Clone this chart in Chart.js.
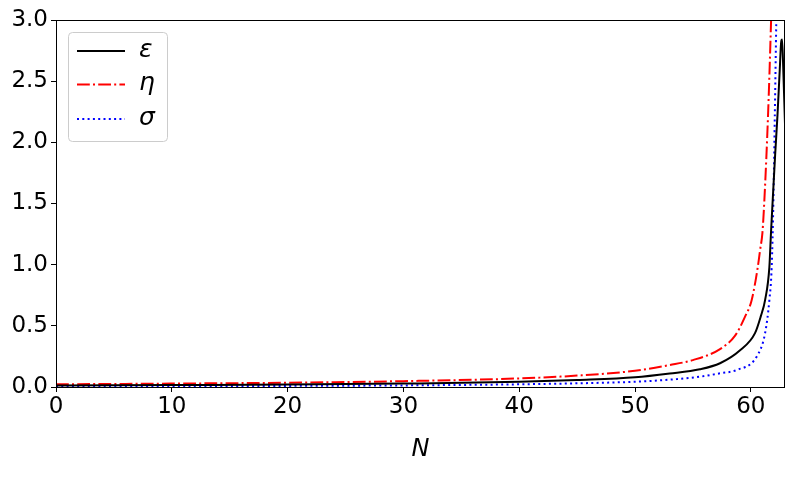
<!DOCTYPE html>
<html>
<head>
<meta charset="utf-8">
<script src="https://cdn.jsdelivr.net/npm/chart.js@4.4.1/dist/chart.umd.min.js"></script>
<style>
  html, body { margin: 0; padding: 0; background: #fff; }
  #wrap { width: 797px; height: 478px; }
</style>
</head>
<body>
<div id="wrap"><canvas id="c" width="797" height="478"></canvas></div>
<script>
// values
const nEps = [0, 10, 20, 30, 40, 45, 50, 53, 55.6, 57.34, 59.07, 60.36, 60.85, 61.23, 61.6, 61.74, 61.89, 62.1, 62.3, 62.5, 62.62, 62.7, 62.8, 62.95];
const eps  = [0.012, 0.016, 0.02, 0.028, 0.042, 0.057, 0.079, 0.11, 0.145, 0.194, 0.30, 0.44, 0.575, 0.71, 0.98, 1.26, 1.53, 1.9, 2.22, 2.6, 2.82, 2.84, 2.6, 2.15];

const nEta = [0, 10, 20, 30, 40, 45, 50, 53, 55, 57.34, 58.64, 59.5, 60.07, 60.6, 60.8, 61.0, 61.17, 61.5, 61.75, 61.9];
const eta  = [0.022, 0.028, 0.035, 0.048, 0.07, 0.093, 0.133, 0.18, 0.22, 0.31, 0.42, 0.575, 0.71, 0.98, 1.12, 1.26, 1.53, 2.26, 3.0, 3.5];

const nSig = [0, 10, 20, 30, 40, 45, 50, 53, 55.6, 57.34, 58.78, 60.5, 61.23, 61.6, 61.8, 61.95, 62.07, 62.2, 62.3];
const sig  = [0.004, 0.006, 0.009, 0.013, 0.022, 0.03, 0.043, 0.06, 0.084, 0.112, 0.139, 0.248, 0.44, 0.71, 0.98, 1.53, 2.22, 3.0, 3.5];

const xTicks = [0, 10, 20, 30, 40, 50, 60];
const yTicks = [0, 0.5, 1, 1.5, 2, 2.5, 3];
const labels = ["ε", "η", "σ"];

const toPts = (xs, ys) => xs.map((x, i) => ({ x, y: ys[i] }));

const FONT = "'DejaVu Sans', sans-serif";

const series = [
  { label: labels[0], data: toPts(nEps, eps), borderColor: "#000000", borderDash: [] },
  { label: labels[1], data: toPts(nEta, eta), borderColor: "#ff0000", borderDash: [12.8, 3.2, 2, 3.2] },
  { label: labels[2], data: toPts(nSig, sig), borderColor: "#0000ff", borderDash: [2, 3.3] }
];

// frame, x title and legend box drawn like matplotlib
const extras = {
  id: "extras",
  afterDraw(chart) {
    const { ctx, chartArea: a } = chart;
    ctx.save();
    ctx.strokeStyle = "#000";
    ctx.lineWidth = 1;
    ctx.strokeRect(a.left + 0.5, a.top + 0.5, a.right - a.left - 1, a.bottom - a.top);

    ctx.fillStyle = "#000";
    ctx.font = "italic 24px " + FONT;
    ctx.textAlign = "center";
    ctx.textBaseline = "middle";
    ctx.fillText("N", (a.left + a.right) / 2, 450);

    // legend
    const bx = 68, by = 32, bw = 99, bh = 109;
    ctx.beginPath();
    ctx.roundRect(bx + 0.5, by + 0.5, bw, bh, 4);
    ctx.fillStyle = "rgba(255,255,255,0.8)";
    ctx.fill();
    ctx.strokeStyle = "#cccccc";
    ctx.stroke();

    const rows = [51, 84.5, 119];
    series.forEach((s, i) => {
      ctx.beginPath();
      ctx.setLineDash(s.borderDash);
      ctx.strokeStyle = s.borderColor;
      ctx.lineWidth = 2;
      ctx.moveTo(77, rows[i]);
      ctx.lineTo(125, rows[i]);
      ctx.stroke();
      ctx.setLineDash([]);
      ctx.fillStyle = "#000";
      ctx.font = "italic 25px " + FONT;
      ctx.textAlign = "left";
      ctx.textBaseline = "middle";
      ctx.fillText(s.label, 139, rows[i] - 1);
    });
    ctx.restore();
  }
};

new Chart(document.getElementById("c"), {
  type: "scatter",
  data: {
    datasets: series.map(s => ({
      label: s.label,
      data: s.data,
      showLine: true,
      borderColor: s.borderColor,
      borderDash: s.borderDash,
      borderWidth: 2,
      pointRadius: 0,
      cubicInterpolationMode: "monotone",
      clip: 0
    }))
  },
  options: {
    responsive: false,
    animation: false,
    layout: { padding: { top: 20, right: 12, left: 0, bottom: 0 } },
    plugins: { legend: { display: false }, tooltip: { enabled: false } },
    scales: {
      x: {
        type: "linear",
        min: 0,
        max: 62.95,
        afterBuildTicks: s => { s.ticks = xTicks.map(v => ({ value: v })); },
        afterFit: s => { s.height = 91; },
        grid: { drawOnChartArea: false, tickLength: 5, color: "#000" },
        border: { display: false },
        ticks: { color: "#000", font: { family: FONT, size: 23 }, padding: 1, maxRotation: 0 }
      },
      y: {
        type: "linear",
        min: 0,
        max: 3,
        afterBuildTicks: s => { s.ticks = yTicks.map(v => ({ value: v })); },
        afterFit: s => { s.width = 56; },
        grid: { drawOnChartArea: false, tickLength: 5, color: "#000" },
        border: { display: false },
        ticks: { color: "#000", font: { family: FONT, size: 23 }, padding: 3, callback: v => v.toFixed(1) }
      }
    }
  },
  plugins: [extras]
});
</script>
</body>
</html>
